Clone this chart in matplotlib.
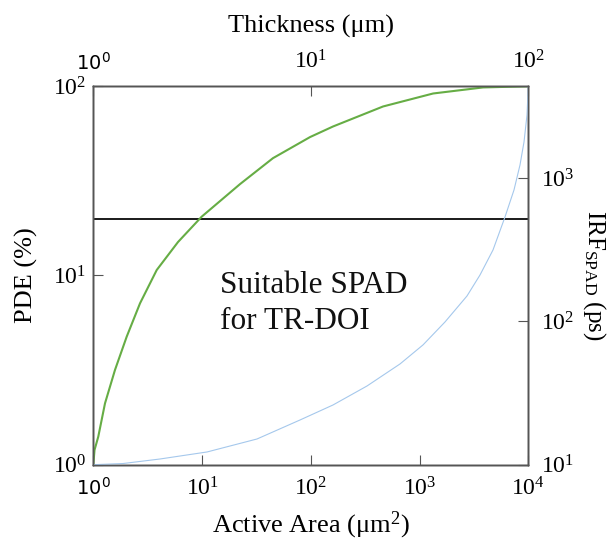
import matplotlib
matplotlib.use('Agg')
import matplotlib.pyplot as plt
from matplotlib.ticker import FixedLocator, NullLocator

plt.rcParams['font.family'] = 'Liberation Serif'
plt.rcParams['mathtext.fontset'] = 'custom'
plt.rcParams['mathtext.rm'] = 'Liberation Serif'
plt.rcParams['mathtext.it'] = 'Liberation Serif:italic'
plt.rcParams['mathtext.sf'] = 'DejaVu Sans'

# PDE against absorption thickness (top / left axes)
thickness_um = [1.0, 1.013, 1.054, 1.132, 1.258, 1.424, 1.640, 1.957, 2.452,
                3.150, 4.727, 6.70, 9.92, 12.65, 21.48, 36.5, 61.9, 100.0]
pde_pct = [1.0, 1.196, 1.406, 2.111, 3.167, 4.749, 7.13, 10.69, 15.03,
           20.46, 30.41, 41.7, 53.9, 61.3, 78.2, 91.6, 98.6, 100.0]

# SPAD timing response against active area (bottom / right axes)
area_um2 = [1, 1.876, 4.105, 11.11, 32.02, 79.6, 160.0, 328.7, 661, 1076,
            1714, 2731, 3597, 4736, 6106, 7387, 8387, 9131, 9728, 10000]
irf_ps = [10, 10.19, 10.96, 12.27, 15.12, 20.52, 26.12, 35.44, 50.5, 68.6,
          99.2, 150.7, 211.2, 315.7, 536.7, 828.5, 1238, 1793, 2767, 4385]

pde_limit = 20

area_ticks = [1, 10, 100, 1000, 10000]
area_labels = [r'$\mathsf{10^{0}}$', r'$10^{1}$', r'$10^{2}$', r'$10^{3}$', r'$10^{4}$']
pde_ticks = [1, 10, 100]
pde_labels = [r'$10^{0}$', r'$10^{1}$', r'$10^{2}$']
thick_ticks = [1, 10, 100]
thick_labels = [r'$\mathsf{10^{0}}$', r'$10^{1}$', r'$10^{2}$']
irf_ticks = [10, 100, 1000]
irf_labels = [r'$10^{1}$', r'$10^{2}$', r'$10^{3}$']

green = '#66ad45'
blue = '#a5c8ec'
frame = '#555555'
fs = 17

fig = plt.figure(figsize=(6.09, 5.43), dpi=100)
ax = fig.add_axes([0.1532, 0.1442, 0.7143, 0.6969])
ax_top = ax.twiny()
ax_right = ax.twinx()

ax.set_xscale('log')
ax.set_yscale('log')
ax.set_xlim(1, 1e4)
ax.set_ylim(1, 100)
ax_top.set_xscale('log')
ax_top.set_xlim(1, 100)
ax_right.set_yscale('log')
ax_right.set_ylim(10, 4385)

ax.axhline(pde_limit, color='#1a1a1a', lw=1.4)
ax_top.plot(thickness_um, pde_pct, color=green, lw=1.5)
ax_right.plot(area_um2, irf_ps, color=blue, lw=0.8)

for a in (ax, ax_top, ax_right):
    for s in a.spines.values():
        s.set_color(frame)
        s.set_linewidth(1.0)
    a.xaxis.set_minor_locator(NullLocator())
    a.yaxis.set_minor_locator(NullLocator())

ax.xaxis.set_major_locator(FixedLocator(area_ticks))
ax.set_xticklabels(area_labels)
ax.yaxis.set_major_locator(FixedLocator(pde_ticks))
ax.set_yticklabels(pde_labels)
ax_top.xaxis.set_major_locator(FixedLocator(thick_ticks))
ax_top.set_xticklabels(thick_labels)
ax_right.yaxis.set_major_locator(FixedLocator(irf_ticks))
ax_right.set_yticklabels(irf_labels)

ax.tick_params(axis='x', direction='in', length=7, color=frame, pad=9,
               labelsize=fs, top=False)
ax.tick_params(axis='y', direction='in', length=7, color=frame, pad=5,
               labelsize=fs, right=False)
ax_top.tick_params(axis='x', direction='in', length=7, color=frame, pad=9,
                   labelsize=fs)
ax_right.tick_params(axis='y', direction='in', length=7, color=frame, pad=9,
                     labelsize=fs)

# the two sans-serif 10^0 labels are a little smaller
ax.get_xticklabels()[0].set_fontsize(14)
ax_top.get_xticklabels()[0].set_fontsize(14)

ax.set_xlabel('Active Area (μm$^{2}$)', fontsize=19, labelpad=7)
ax.set_ylabel('PDE (%)', fontsize=19, labelpad=11)
ax_top.set_xlabel('Thickness (μm)', fontsize=19, labelpad=13)
ax_right.set_ylabel(r'IRF$_{\mathrm{SPAD}}$ (ps)', fontsize=18, rotation=-90,
                    labelpad=24)

# va='baseline' on a two-line string pins the last line's baseline
ax.text(0.291, 0.358, 'Suitable SPAD\nfor TR-DOI', transform=ax.transAxes,
        fontsize=22.5, va='baseline', ha='left', linespacing=1.31,
        color='#111111')

fig.savefig('out.png', dpi=100)
